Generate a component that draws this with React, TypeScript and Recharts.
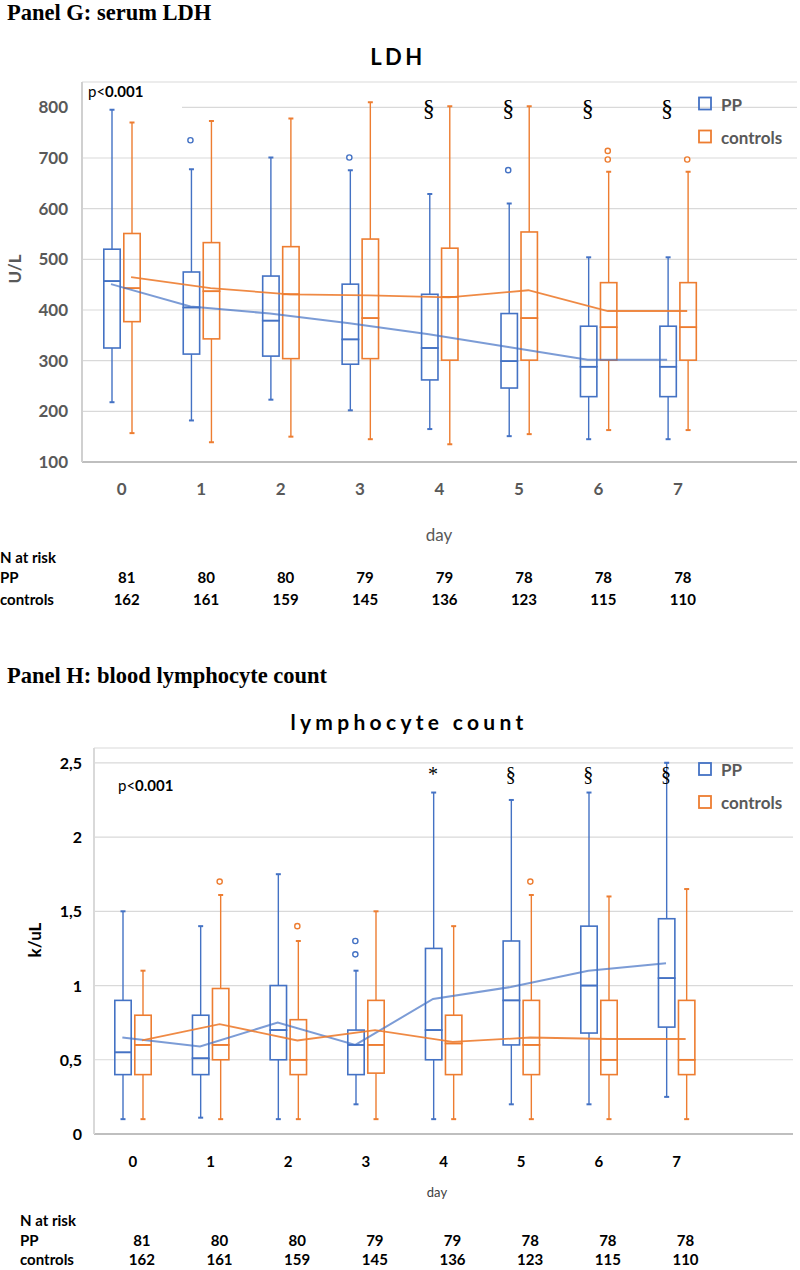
import React from "react";
import {
    Bar,
    CartesianGrid,
    ComposedChart,
    Line,
    Scatter,
    XAxis,
    YAxis,
} from "recharts";

const days = [0, 1, 2, 3, 4, 5, 6, 7];
const nAtRiskPP = [81, 80, 80, 79, 79, 78, 78, 78];
const nAtRiskControls = [162, 161, 159, 145, 136, 123, 115, 110];

// Panel G: serum LDH (U/L)
const ldhPPMin = [218, 182, 223, 202, 165, 151, 145, 145];
const ldhPPQ1 = [325, 313, 309, 293, 262, 246, 229, 229];
const ldhPPMedian = [457, 405, 379, 342, 325, 299, 288, 288];
const ldhPPQ3 = [520, 475, 467, 451, 431, 393, 368, 368];
const ldhPPMax = [795, 678, 701, 676, 629, 610, 504, 504];
const ldhPPMean = [451, 407, 393, 374, 352, 327, 302, 302];
const ldhPPOutlierDay = [1, 3, 5];
const ldhPPOutlierValue = [735, 701, 676];

const ldhCtlMin = [157, 139, 150, 145, 135, 155, 163, 163];
const ldhCtlQ1 = [377, 343, 304, 304, 301, 301, 301, 301];
const ldhCtlMedian = [443, 437, 431, 384, 426, 384, 366, 366];
const ldhCtlQ3 = [551, 533, 525, 540, 522, 554, 454, 454];
const ldhCtlMax = [770, 773, 778, 810, 802, 802, 673, 673];
const ldhCtlMean = [465, 443, 431, 429, 425, 439, 398, 398];
const ldhCtlOutlierDay = [6, 6, 7];
const ldhCtlOutlierValue = [714, 697, 697];

const ldhTicks = [100, 200, 300, 400, 500, 600, 700, 800];
const ldhMarkDay = [4, 5, 6, 7];
const ldhMarkText = ["§", "§", "§", "§"];
const ldhMarkValue = 782;

// Panel H: blood lymphocyte count (k/uL)
const lymPPMin = [0.1, 0.11, 0.1, 0.2, 0.1, 0.2, 0.2, 0.25];
const lymPPQ1 = [0.4, 0.4, 0.5, 0.4, 0.5, 0.6, 0.68, 0.72];
const lymPPMedian = [0.55, 0.51, 0.7, 0.6, 0.7, 0.9, 1.0, 1.05];
const lymPPQ3 = [0.9, 0.8, 1.0, 0.7, 1.25, 1.3, 1.4, 1.45];
const lymPPMax = [1.5, 1.4, 1.75, 1.1, 2.3, 2.25, 2.3, 2.5];
const lymPPMean = [0.65, 0.59, 0.75, 0.6, 0.91, 0.99, 1.1, 1.15];
const lymPPOutlierDay = [3, 3];
const lymPPOutlierValue = [1.3, 1.21];

const lymCtlMin = [0.1, 0.1, 0.1, 0.1, 0.1, 0.1, 0.1, 0.1];
const lymCtlQ1 = [0.4, 0.5, 0.4, 0.41, 0.4, 0.4, 0.4, 0.4];
const lymCtlMedian = [0.6, 0.6, 0.5, 0.6, 0.61, 0.6, 0.5, 0.5];
const lymCtlQ3 = [0.8, 0.98, 0.77, 0.9, 0.8, 0.9, 0.9, 0.9];
const lymCtlMax = [1.1, 1.61, 1.3, 1.5, 1.4, 1.61, 1.6, 1.65];
const lymCtlMean = [0.63, 0.74, 0.63, 0.7, 0.62, 0.65, 0.64, 0.64];
const lymCtlOutlierDay = [1, 2, 5];
const lymCtlOutlierValue = [1.7, 1.4, 1.7];

const lymTicks = [0, 0.5, 1, 1.5, 2, 2.5];
const lymMarkDay = [4, 5, 6, 7];
const lymMarkText = ["*", "§", "§", "§"];
const lymMarkValue = 2.38;

const BLUE = "#4472C4";
const ORANGE = "#ED7D31";
const GRAY = "#595959";
const PP_SHIFT = -0.135;
const CTL_SHIFT = 0.118;

type Box = { min: number[]; q1: number[]; med: number[]; q3: number[]; max: number[] };

const ldhPP: Box = { min: ldhPPMin, q1: ldhPPQ1, med: ldhPPMedian, q3: ldhPPQ3, max: ldhPPMax };
const ldhCtl: Box = { min: ldhCtlMin, q1: ldhCtlQ1, med: ldhCtlMedian, q3: ldhCtlQ3, max: ldhCtlMax };
const lymPP: Box = { min: lymPPMin, q1: lymPPQ1, med: lymPPMedian, q3: lymPPQ3, max: lymPPMax };
const lymCtl: Box = { min: lymCtlMin, q1: lymCtlQ1, med: lymCtlMedian, q3: lymCtlQ3, max: lymCtlMax };

// stacked segments: base -> lower whisker -> lower box -> upper box -> upper whisker
const toRows = (pp: Box, ct: Box) => {
    const rows: any[] = days.map((d, i) => ({
        day: String(d),
        ppBase: pp.min[i],
        ppW1: pp.q1[i] - pp.min[i],
        ppB1: pp.med[i] - pp.q1[i],
        ppB2: pp.q3[i] - pp.med[i],
        ppW2: pp.max[i] - pp.q3[i],
        ctBase: ct.min[i],
        ctW1: ct.q1[i] - ct.min[i],
        ctB1: ct.med[i] - ct.q1[i],
        ctB2: ct.q3[i] - ct.med[i],
        ctW2: ct.max[i] - ct.q3[i],
    }));
    rows.push({ day: "" }); // empty slot on the right, as in the original
    return rows;
};

const toPoints = (xs: number[], ys: number[], shift: number, text?: string[]) =>
    xs.map((d, i) => ({ x: d + shift, y: ys[i], text: text ? text[i] : "" }));

const whisker = (color: string, capTop: boolean) => (props: any) => {
    const { x, y, width, height, payload } = props;
    if (!payload || payload.day === "") return <g />;
    const cx = x + width / 2;
    const capY = capTop ? y : y + height;
    return (
        <g>
            <line x1={cx} x2={cx} y1={y} y2={y + height} stroke={color} strokeWidth={1.4} />
            <line x1={cx - 2.5} x2={cx + 2.5} y1={capY} y2={capY} stroke={color} strokeWidth={2} />
        </g>
    );
};

const boxHalf = (color: string) => (props: any) => {
    const { x, y, width, height, payload } = props;
    if (!payload || payload.day === "") return <g />;
    return (
        <rect
            x={x + 0.8}
            y={y}
            width={width - 1.6}
            height={height}
            fill="none"
            stroke={color}
            strokeWidth={1.6}
        />
    );
};

const outlier = (color: string) => (props: any) => (
    <circle cx={props.cx} cy={props.cy} r={2.6} fill="#fff" stroke={color} strokeWidth={1.4} />
);

const markShape = (size: number) => (props: any) => (
    <text
        x={props.cx}
        y={props.cy}
        textAnchor="middle"
        fontFamily="Liberation Serif"
        fontSize={size}
        fill="#000"
    >
        {props.payload.text}
    </text>
);

const boxSeries = (prefix: string, color: string) => [
    <Bar key={prefix + "Base"} dataKey={prefix + "Base"} stackId={prefix} shape={() => <g />} isAnimationActive={false} />,
    <Bar key={prefix + "W1"} dataKey={prefix + "W1"} stackId={prefix} shape={whisker(color, false)} isAnimationActive={false} />,
    <Bar key={prefix + "B1"} dataKey={prefix + "B1"} stackId={prefix} shape={boxHalf(color)} isAnimationActive={false} />,
    <Bar key={prefix + "B2"} dataKey={prefix + "B2"} stackId={prefix} shape={boxHalf(color)} isAnimationActive={false} />,
    <Bar key={prefix + "W2"} dataKey={prefix + "W2"} stackId={prefix} shape={whisker(color, true)} isAnimationActive={false} />,
];

type TickStyle = {
    color: string;
    size: number;
    labelDy: number;
    numDx: number;
    ppDy: number;
    ctDy: number;
};

const makeXTick = (s: TickStyle) => (props: any) => {
    const { x, y, payload } = props;
    if (payload.value === "") return <g />;
    const i = days.indexOf(Number(payload.value));
    return (
        <g fontFamily="Lato" fontWeight="bold">
            <text x={x} y={y + s.labelDy} textAnchor="middle" fontSize={s.size} fill={s.color}>
                {payload.value}
            </text>
            <text x={x + s.numDx} y={y + s.ppDy} textAnchor="middle" fontSize={15} fill="#000">
                {nAtRiskPP[i]}
            </text>
            <text x={x + s.numDx} y={y + s.ctDy} textAnchor="middle" fontSize={15} fill="#000">
                {nAtRiskControls[i]}
            </text>
        </g>
    );
};

const makeYTick = (color: string, size: number, dx: number, fmt: (v: number) => string) => (props: any) => (
    <text
        x={props.x - dx}
        y={props.y + 6}
        textAnchor="end"
        fontFamily="Lato"
        fontWeight="bold"
        fontSize={size}
        fill={color}
    >
        {fmt(props.payload.value)}
    </text>
);

type PanelProps = {
    height: number;
    margin: { top: number; right: number; bottom: number; left: number };
    yWidth: number;
    xHeight: number;
    domain: [number, number];
    ticks: number[];
    rows: any[];
    ppMean: any[];
    ctMean: any[];
    ppOut: any[];
    ctOut: any[];
    marks: any[];
    markSize: number;
    xTick: (p: any) => React.ReactElement;
    yTick: (p: any) => React.ReactElement;
    yLine: string;
};

const BoxPanel = (p: PanelProps) => (
    <ComposedChart
        width={800}
        height={p.height}
        data={p.rows}
        margin={p.margin}
        barSize={18}
        barGap={2}
    >
        <CartesianGrid vertical={false} stroke="#d9d9d9" strokeWidth={1.2} />
        <XAxis
            dataKey="day"
            type="category"
            height={p.xHeight}
            interval={0}
            tickLine={false}
            tickSize={0}
            tickMargin={0}
            axisLine={{ stroke: "#bfbfbf", strokeWidth: 2 }}
            tick={p.xTick}
        />
        <XAxis xAxisId="num" type="number" dataKey="x" domain={[-0.5, 8.5]} allowDataOverflow hide />
        <YAxis
            type="number"
            width={p.yWidth}
            domain={p.domain}
            ticks={p.ticks}
            allowDataOverflow
            interval={0}
            tickLine={false}
            tickSize={0}
            tickMargin={0}
            axisLine={{ stroke: p.yLine, strokeWidth: 2 }}
            tick={p.yTick}
        />
        {boxSeries("pp", BLUE)}
        {boxSeries("ct", ORANGE)}
        <Line
            xAxisId="num"
            data={p.ppMean}
            dataKey="y"
            stroke={BLUE}
            strokeOpacity={0.7}
            strokeWidth={2}
            dot={false}
            isAnimationActive={false}
        />
        <Line
            xAxisId="num"
            data={p.ctMean}
            dataKey="y"
            stroke={ORANGE}
            strokeOpacity={0.9}
            strokeWidth={1.8}
            dot={false}
            isAnimationActive={false}
        />
        <Scatter xAxisId="num" data={p.ppOut} dataKey="y" shape={outlier(BLUE)} isAnimationActive={false} />
        <Scatter xAxisId="num" data={p.ctOut} dataKey="y" shape={outlier(ORANGE)} isAnimationActive={false} />
        <Scatter xAxisId="num" data={p.marks} dataKey="y" shape={markShape(p.markSize)} isAnimationActive={false} />
    </ComposedChart>
);

const Legend2 = ({ top }: { top: number }) => (
    <g fontFamily="Lato" fontWeight="bold" fontSize={17} fill={GRAY}>
        <rect x={699} y={top} width={12} height={12} fill="none" stroke={BLUE} strokeWidth={1.8} />
        <text x={721} y={top + 13}>PP</text>
        <rect x={699} y={top + 33} width={12} height={12} fill="none" stroke={ORANGE} strokeWidth={1.8} />
        <text x={721} y={top + 46}>controls</text>
    </g>
);

const App = () => {
    return (
        <div style={{ position: "absolute", left: 0, top: 0, width: 800, height: 1270, background: "#fff" }}>
            <div style={{ position: "absolute", left: 0, top: 0 }}>
                <BoxPanel
                    height={612}
                    margin={{ top: 82, right: 3, bottom: 0, left: 0 }}
                    yWidth={82}
                    xHeight={150}
                    domain={[100, 850]}
                    ticks={ldhTicks}
                    rows={toRows(ldhPP, ldhCtl)}
                    ppMean={toPoints(days, ldhPPMean, PP_SHIFT)}
                    ctMean={toPoints(days, ldhCtlMean, CTL_SHIFT)}
                    ppOut={toPoints(ldhPPOutlierDay, ldhPPOutlierValue, PP_SHIFT)}
                    ctOut={toPoints(ldhCtlOutlierDay, ldhCtlOutlierValue, CTL_SHIFT)}
                    marks={toPoints(ldhMarkDay, ldhMarkDay.map(() => ldhMarkValue), PP_SHIFT, ldhMarkText)}
                    markSize={24}
                    xTick={makeXTick({ color: GRAY, size: 17, labelDy: 33, numDx: 5, ppDy: 121, ctDy: 143 })}
                    yTick={makeYTick(GRAY, 17, 14, (v) => String(v))}
                    yLine="#d0d0d0"
                />
            </div>
            <div style={{ position: "absolute", left: 0, top: 620 }}>
                <BoxPanel
                    height={650}
                    margin={{ top: 128, right: 7, bottom: 0, left: 0 }}
                    yWidth={94}
                    xHeight={136}
                    domain={[0, 2.6]}
                    ticks={lymTicks}
                    rows={toRows(lymPP, lymCtl)}
                    ppMean={toPoints(days, lymPPMean, PP_SHIFT)}
                    ctMean={toPoints(days, lymCtlMean, CTL_SHIFT)}
                    ppOut={toPoints(lymPPOutlierDay, lymPPOutlierValue, PP_SHIFT)}
                    ctOut={toPoints(lymCtlOutlierDay, lymCtlOutlierValue, CTL_SHIFT)}
                    marks={toPoints(lymMarkDay, lymMarkDay.map(() => lymMarkValue), PP_SHIFT, lymMarkText)}
                    markSize={20}
                    xTick={makeXTick({ color: "#000", size: 15, labelDy: 33, numDx: 9, ppDy: 112, ctDy: 131 })}
                    yTick={makeYTick("#000", 16, 12, (v) => String(v).replace(".", ","))}
                    yLine="#d9d9d9"
                />
            </div>
            <svg
                width={800}
                height={1270}
                style={{ position: "absolute", left: 0, top: 0, pointerEvents: "none" }}
            >
                {/* Panel G */}
                <text x={7} y={19.5} fontFamily="Liberation Serif" fontWeight="bold" fontSize={22.5}>
                    Panel G: serum LDH
                </text>
                <text x={398} y={65} textAnchor="middle" fontFamily="Lato" fontWeight="bold" fontSize={22} letterSpacing={3.5}>
                    LDH
                </text>
                <rect x={83} y={84} width={99} height={24} fill="#fff" />
                <text x={88} y={96.7} fontFamily="Lato" fontSize={15}>
                    p&lt;<tspan fontWeight="bold">0.001</tspan>
                </text>
                <Legend2 top={97.5} />
                <text transform="translate(21,269) rotate(-90)" textAnchor="middle" fontFamily="Lato" fontWeight="bold" fontSize={17} fill={GRAY}>
                    U/L
                </text>
                <text x={439} y={541} textAnchor="middle" fontFamily="Lato" fontSize={17} fill={GRAY}>
                    day
                </text>
                <g fontFamily="Lato" fontWeight="bold" fontSize={15}>
                    <text x={0} y={563}>N at risk</text>
                    <text x={0} y={583}>PP</text>
                    <text x={0} y={605}>controls</text>
                </g>

                {/* Panel H */}
                <text x={7} y={683} fontFamily="Liberation Serif" fontWeight="bold" fontSize={22.5}>
                    Panel H: blood lymphocyte count
                </text>
                <text x={409} y={730} textAnchor="middle" fontFamily="Lato" fontWeight="bold" fontSize={21} letterSpacing={4.3}>
                    lymphocyte count
                </text>
                <text x={118} y={790.5} fontFamily="Lato" fontSize={15}>
                    p&lt;<tspan fontWeight="bold">0.001</tspan>
                </text>
                <Legend2 top={763} />
                <text transform="translate(41,940) rotate(-90)" textAnchor="middle" fontFamily="Lato" fontWeight="bold" fontSize={17} fill="#000">
                    k/uL
                </text>
                <text x={437} y={1197} textAnchor="middle" fontFamily="Lato" fontSize={13} fill="#404040">
                    day
                </text>
                <g fontFamily="Lato" fontWeight="bold" fontSize={15}>
                    <text x={20} y={1226}>N at risk</text>
                    <text x={20} y={1246}>PP</text>
                    <text x={20} y={1265}>controls</text>
                </g>
            </svg>
        </div>
    );
};

export default App;
